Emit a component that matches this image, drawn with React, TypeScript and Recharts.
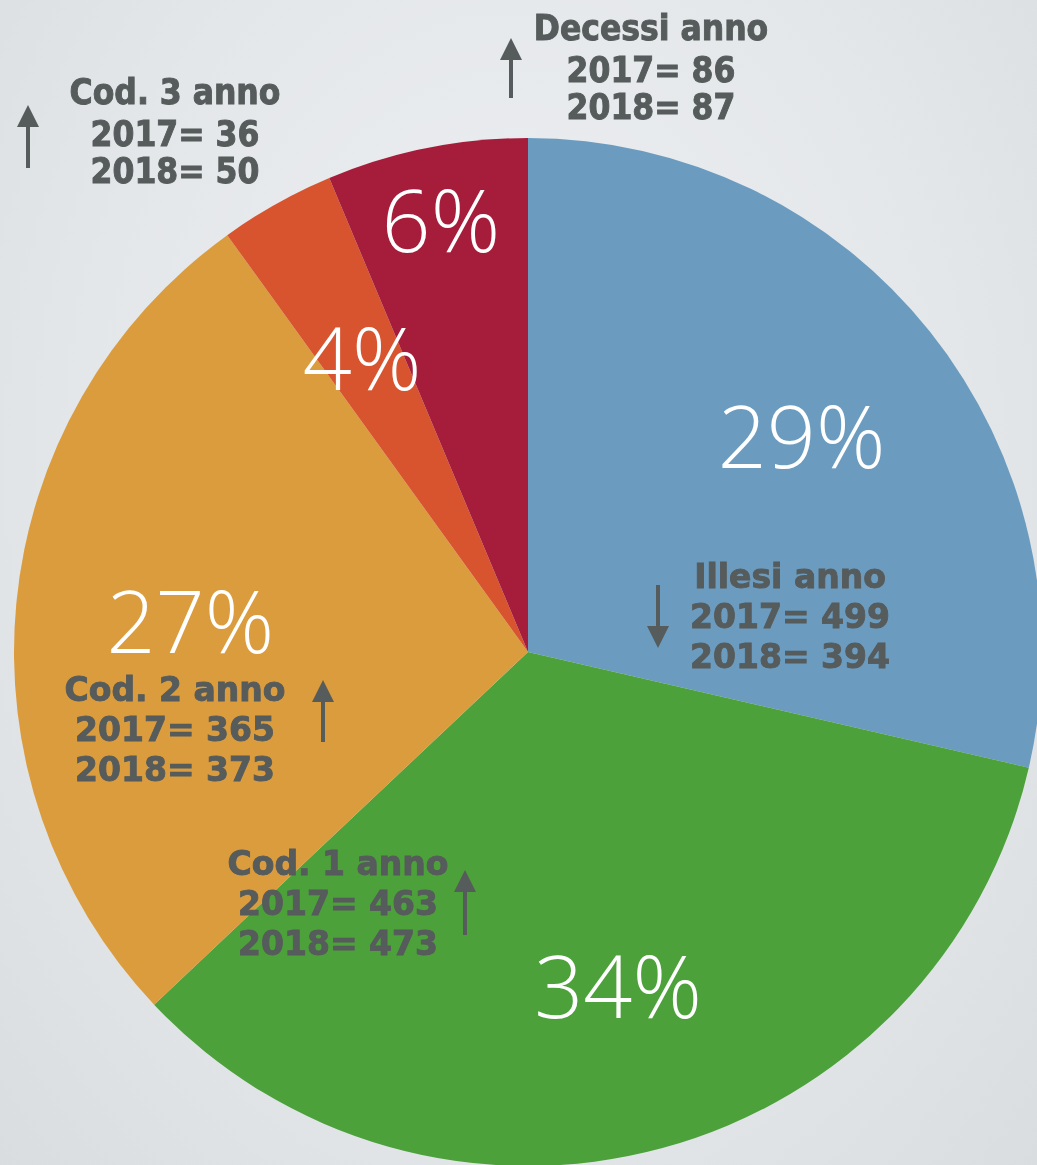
import React from "react";
import { PieChart, Pie, Cell } from "recharts";

// categories clockwise from 12 o'clock
const categories = ["Illesi", "Cod. 1", "Cod. 2", "Cod. 3", "Decessi"];
const values2018 = [394, 473, 373, 50, 87];
const values2017 = [499, 463, 365, 36, 86];
const percentLabels = ["29%", "34%", "27%", "4%", "6%"];
const trend = ["down", "up", "up", "up", "up"];

const colors = ["#6b9cc0", "#4ca13a", "#db9c3d", "#d8542f", "#a51d3a"];
const labelRadius = [0.68, 0.67, 0.66, 0.66, 0.86];

const W = 1037;
const H = 1165;
// recharts adds the 5px default margin to numeric cx/cy
const CX = 523;
const CY = 647;
const R = 514;

const data = categories.map((name, i) => ({
  name,
  value: values2018[i],
  prev: values2017[i],
}));

// annotation placement for each category (same order)
const notes = [
  { x: 790, y: 576, arrowX: 658, arrowTop: 585, arrowBottom: 648, condensed: false },
  { x: 338, y: 863, arrowX: 465, arrowTop: 870, arrowBottom: 935, condensed: false },
  { x: 175, y: 689, arrowX: 323, arrowTop: 680, arrowBottom: 742, condensed: false },
  { x: 175, y: 92, arrowX: 28, arrowTop: 105, arrowBottom: 168, condensed: true },
  { x: 651, y: 28, arrowX: 511, arrowTop: 38, arrowBottom: 98, condensed: true },
];

const RAD = Math.PI / 180;

function renderPercent(props: any) {
  const { cx, cy, midAngle, outerRadius, index } = props;
  const r = outerRadius * labelRadius[index];
  const x = cx + r * Math.cos(-midAngle * RAD);
  const y = cy + r * Math.sin(-midAngle * RAD);
  return (
    <text
      x={x}
      y={y}
      fill="#ffffff"
      textAnchor="middle"
      dominantBaseline="central"
      fontFamily="'Open Sans', Lato, sans-serif"
      fontWeight={300}
      fontSize={86}
    >
      {percentLabels[index]}
    </text>
  );
}

function Arrow({ x, top, bottom, dir }: { x: number; top: number; bottom: number; dir: string }) {
  const head = 22;
  const hw = 11;
  if (dir === "up") {
    return (
      <g fill="#565b5b" stroke="#565b5b">
        <line x1={x} y1={top + head - 2} x2={x} y2={bottom} strokeWidth={4} />
        <polygon points={`${x - hw},${top + head} ${x + hw},${top + head} ${x},${top}`} stroke="none" />
      </g>
    );
  }
  return (
    <g fill="#565b5b" stroke="#565b5b">
      <line x1={x} y1={top} x2={x} y2={bottom - head + 2} strokeWidth={4} />
      <polygon points={`${x - hw},${bottom - head} ${x + hw},${bottom - head} ${x},${bottom}`} stroke="none" />
    </g>
  );
}

export default function App() {
  return (
    <div
      style={{
        position: "fixed",
        left: 0,
        top: 0,
        width: W,
        height: H,
        overflow: "hidden",
        background: "radial-gradient(ellipse at 50% 40%, #eef0f2 0%, #e4e7ea 60%, #d9dde0 100%)",
      }}
    >
      <PieChart width={W} height={H} style={{ position: "absolute", left: 0, top: 0 }}>
        <Pie
          data={data}
          dataKey="value"
          nameKey="name"
          cx={CX}
          cy={CY}
          outerRadius={R}
          innerRadius={0}
          startAngle={90}
          endAngle={-270}
          stroke="none"
          label={renderPercent}
          labelLine={false}
          isAnimationActive={false}
        >
          {data.map((d, i) => (
            <Cell key={d.name} fill={colors[i]} />
          ))}
        </Pie>
      </PieChart>
      <svg width={W} height={H} style={{ position: "absolute", left: 0, top: 0, pointerEvents: "none" }}>
        {notes.map((n, i) => {
          const family = n.condensed
            ? "'Liberation Sans Narrow', 'DejaVu Sans Condensed', sans-serif"
            : "'DejaVu Sans', Lato, sans-serif";
          const size = n.condensed ? 35 : 33;
          const gap = n.condensed ? [0, 42, 79] : [0, 40, 80];
          return (
            <g key={categories[i]}>
              <text
                x={n.x}
                y={n.y}
                textAnchor="middle"
                dominantBaseline="central"
                fill="#565b5b"
                stroke="#565b5b"
                strokeWidth={0.9}
                fontFamily={family}
                fontWeight={700}
                fontSize={size}
              >
                <tspan x={n.x} y={n.y + gap[0]}>{`${categories[i]} anno`}</tspan>
                <tspan x={n.x} y={n.y + gap[1]}>{`2017= ${values2017[i]}`}</tspan>
                <tspan x={n.x} y={n.y + gap[2]}>{`2018= ${values2018[i]}`}</tspan>
              </text>
              <Arrow x={n.arrowX} top={n.arrowTop} bottom={n.arrowBottom} dir={trend[i]} />
            </g>
          );
        })}
      </svg>
    </div>
  );
}
